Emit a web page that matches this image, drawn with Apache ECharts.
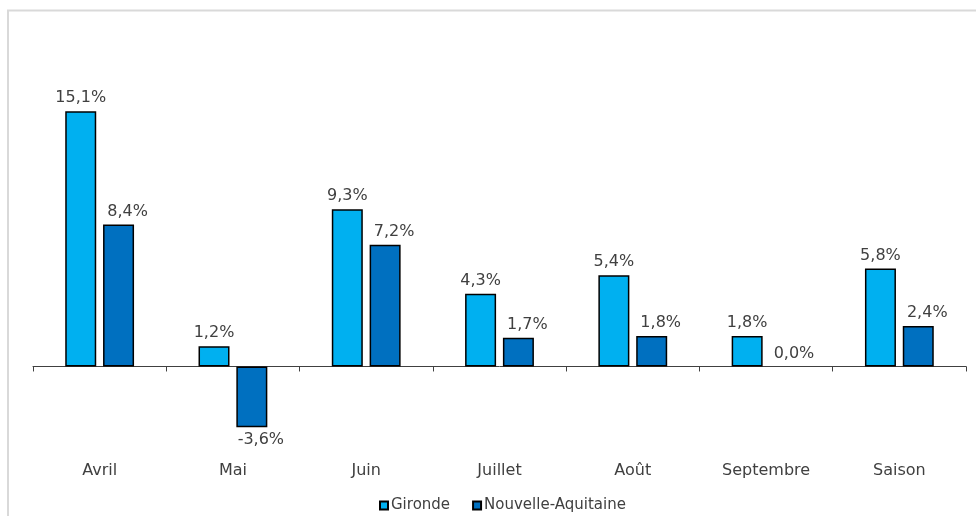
<!DOCTYPE html>
<html>
<head>
<meta charset="utf-8">
<script src="https://cdn.jsdelivr.net/npm/echarts@6/dist/echarts.min.js"></script>
<style>
html,body{margin:0;padding:0;background:#fff;}
#chart{width:976px;height:516px;}
</style>
</head>
<body>
<div id="chart"></div>
<script>
var categories = ['Avril', 'Mai', 'Juin', 'Juillet', 'Août', 'Septembre', 'Saison'];
var seriesNames = ['Gironde', 'Nouvelle-Aquitaine'];
var gironde = [15.1, 1.2, 9.3, 4.3, 5.4, 1.8, 5.8];
var nouvelleAquitaine = [8.4, -3.6, 7.2, 1.7, 1.8, 0.0, 2.4];

var FONT = '"DejaVu Sans", Verdana, sans-serif';
var TXT = '#404040';

function fmt(v) {
  return v.toFixed(1).replace('.', ',') + '%';
}
function toItems(arr) {
  return arr.map(function (v) {
    var item = {
      value: v,
      label: { position: v < 0 ? 'bottom' : 'top' }
    };
    if (v === 0) item.itemStyle = { borderWidth: 0 };
    return item;
  });
}

var chart = echarts.init(document.getElementById('chart'), null, { renderer: 'canvas' });
chart.setOption({
  animation: false,
  backgroundColor: '#ffffff',
  graphic: [{
    type: 'rect',
    shape: { x: 8, y: 10.5, width: 1000, height: 600 },
    style: { fill: 'none', stroke: '#d9d9d9', lineWidth: 2 },
    silent: true,
    z: -10
  }],
  grid: { left: 33, right: 10, top: 96, height: 355, containLabel: false },
  legend: {
    data: seriesNames,
    left: 374,
    top: 493,
    itemWidth: 8,
    itemHeight: 8,
    itemGap: 22,
    icon: 'rect',
    textStyle: { fontFamily: FONT, fontSize: 15, color: TXT, padding: [0, 0, 0, -2] }
  },
  xAxis: [{
    type: 'category',
    data: categories,
    axisLine: { onZero: true, lineStyle: { color: '#404040', width: 1 } },
    axisTick: { show: true, length: 5, alignWithLabel: false, lineStyle: { color: '#404040' } },
    axisLabel: { show: false }
  }, {
    type: 'category',
    data: categories,
    position: 'bottom',
    axisLine: { show: false, onZero: false },
    axisTick: { show: false },
    axisLabel: { show: true, margin: 12, fontFamily: FONT, fontSize: 16, color: TXT }
  }],
  yAxis: {
    type: 'value',
    min: -5,
    max: 16,
    show: false,
    splitLine: { show: false }
  },
  series: [{
    name: seriesNames[0],
    type: 'bar',
    xAxisIndex: 0,
    data: toItems(gironde),
    barWidth: 31,
    barGap: '22%',
    itemStyle: { color: '#00B0F0', borderColor: '#000000', borderWidth: 1.5 },
    label: {
      show: true, distance: 5, fontFamily: FONT, fontSize: 16, color: TXT,
      formatter: function (p) { return fmt(p.value); }
    }
  }, {
    name: seriesNames[1],
    type: 'bar',
    xAxisIndex: 0,
    data: toItems(nouvelleAquitaine),
    barWidth: 31,
    barGap: '22%',
    itemStyle: { color: '#0070C0', borderColor: '#000000', borderWidth: 1.5 },
    label: {
      show: true, distance: 5, offset: [9, 0], fontFamily: FONT, fontSize: 16, color: TXT,
      formatter: function (p) { return fmt(p.value); }
    }
  }]
});
</script>
</body>
</html>
